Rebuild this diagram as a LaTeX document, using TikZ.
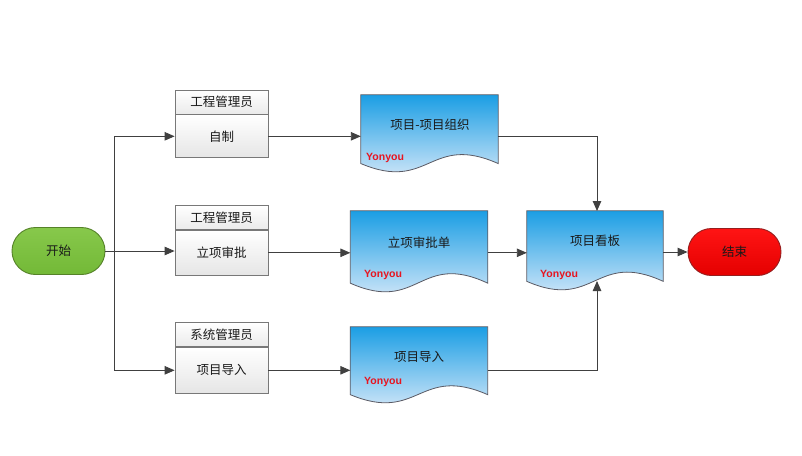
\documentclass[tikz,border=0pt]{standalone}
\usepackage{fontspec}
\setmainfont{Noto Sans CJK SC}
\newfontfamily\yfont{Liberation Sans}
\usetikzlibrary{arrows.meta,calc,shapes.misc}
\definecolor{lineC}{RGB}{64,64,64}
\definecolor{docTop}{RGB}{27,158,228}
\definecolor{docMid}{RGB}{160,205,240}
\definecolor{docBot}{RGB}{240,243,252}
\definecolor{docLine}{RGB}{90,90,100}
\definecolor{roleLine}{RGB}{120,120,120}
\definecolor{ynRed}{RGB}{232,20,31}
\newcommand\docshape[1]{%
  \path[docstyle] let \p1=(#1.north west), \p2=(#1.south east), \n1={\x2-\x1}, \n2={\y1-\y2} in
  (\x1,\y1) -- (\x2,\y1) -- (\x2,{\y1-0.9*\n2})
  .. controls ({\x1+0.5*\n1},{\y1-0.50*\n2}) and ({\x1+0.5*\n1},{\y1-1.28*\n2}) ..
  (\x1,{\y1-0.9*\n2}) -- cycle;}
\begin{document}
\begin{tikzpicture}[x=1pt,y=-1pt,
  cjk/.style={font=\fontsize{12.5}{14}\selectfont, text=black!90},
  term/.style={rounded rectangle, minimum width=93pt, minimum height=47pt, line width=0.9pt, inner sep=0pt, cjk},
  rolehead/.style={draw=roleLine, line width=0.8pt, top color=white, bottom color=black!8, minimum width=93pt, minimum height=24pt, inner sep=0pt, cjk},
  rolebody/.style={draw=roleLine, line width=0.8pt, top color=white, bottom color=black!10, minimum width=93pt, minimum height=43pt, inner sep=0pt, cjk, anchor=north},
  docnode/.style={minimum width=137pt, inner sep=0pt},
  docstyle/.style={draw=docLine, line width=0.8pt, top color=docTop, middle color=docMid, bottom color=docBot},
  yon/.style={font=\yfont\bfseries\fontsize{10.5}{12}\selectfont, text=ynRed, anchor=west, inner sep=0pt},
  arr/.style={draw=lineC, line width=0.9pt, -{Triangle[length=10pt,width=8.5pt]}},
  ln/.style={draw=lineC, line width=0.9pt}]
\useasboundingbox[fill=white] (0,0) rectangle (802,455);

% start / end
\node[term, draw={rgb,255:red,85;green,130;blue,40}, top color={rgb,255:red,135;green,200;blue,75}, bottom color={rgb,255:red,115;green,185;blue,55}] (start) at (58.5,251) {开始};
\node[term, draw={rgb,255:red,150;green,30;blue,30}, top color={rgb,255:red,255;green,20;blue,20}, bottom color={rgb,255:red,228;green,0;blue,0}] (end) at (734.5,252) {结束};

% role boxes
\node[rolehead] (r1h) at (221.5,102) {工程管理员};
\node[rolebody] (r1b) at (r1h.south) {自制};
\node[rolehead] (r2h) at (221.5,217.5) {工程管理员};
\node[rolebody, minimum height=45pt] (r2b) at (r2h.south) {立项审批};
\node[rolehead] (r3h) at (221.5,334.5) {系统管理员};
\node[rolebody, minimum height=46pt] (r3b) at (r3h.south) {项目导入};

% documents
\node[docnode, minimum height=76pt] (d1) at (429.5,133) {};
\node[docnode, minimum height=80pt] (d2) at (419,251) {};
\node[docnode, minimum height=75pt] (d3) at (419,364.5) {};
\node[docnode, minimum height=78pt, minimum width=136pt] (d4) at (595,250) {};
\docshape{d1}
\docshape{d2}
\docshape{d3}
\docshape{d4}
\node[cjk] (t1) at (430,125) {项目-项目组织};
\node[cjk] (t2) at (419,243) {立项审批单};
\node[cjk] (t3) at (419,357) {项目导入};
\node[cjk] (t4) at (595,241) {项目看板};
\node[yon] (y1) at (366,158) {Yonyou};
\node[yon] (y2) at (364,275) {Yonyou};
\node[yon] (y3) at (364,382) {Yonyou};
\node[yon] (y4) at (540,275) {Yonyou};

% connectors
\coordinate (split) at (114,251);
\coordinate (d4b) at (597,281);
\coordinate (d4t) at (597,211);
\draw[arr] (start.east) -- (start.east -| r2b.west);
\draw[arr] (split) |- (r1b.west);
\draw[arr] (split) |- (r3b.west);
\draw[arr] (r1b.east) -- (r1b.east -| d1.west);
\draw[arr] (r2b.east) -- (r2b.east -| d2.west);
\draw[arr] (r3b.east) -- (r3b.east -| d3.west);
\draw[arr] (r1b.east -| d1.east) -| (d4t);
\draw[arr] (r3b.east -| d3.east) -| (d4b);
\draw[arr] (r2b.east -| d2.east) -- (r2b.east -| d4.west);
\draw[arr] (end.west -| d4.east) -- (end.west);
\end{tikzpicture}
\end{document}
